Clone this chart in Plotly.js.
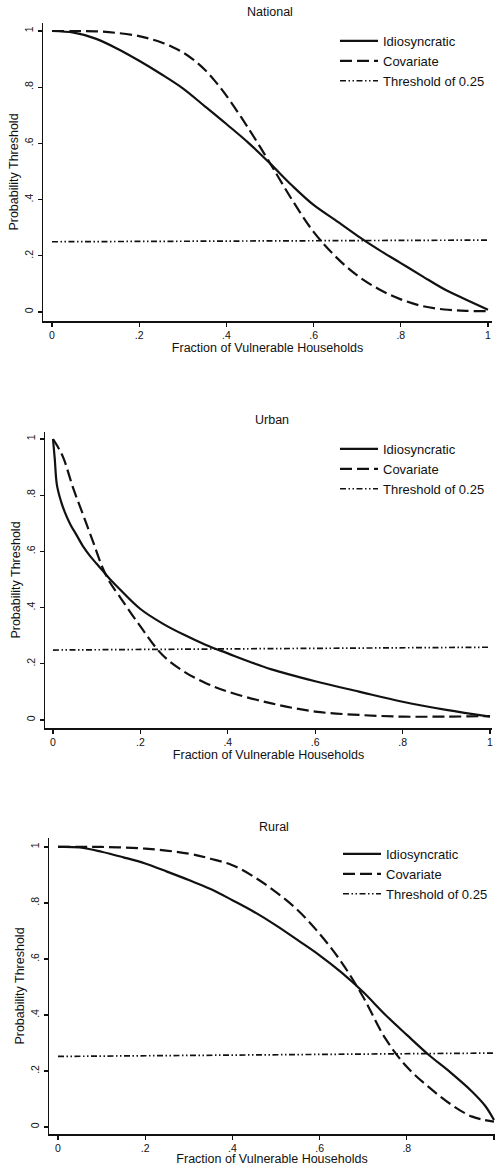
<!DOCTYPE html>
<html>
<head>
<meta charset="utf-8">
<script src="https://cdn.plot.ly/plotly-3.0.1.min.js"></script>
<style>html,body{margin:0;padding:0;background:#fff;}#chart{width:495px;height:1166px;}</style>
</head>
<body>
<div id="chart"></div>
<script>
// ---- Data ----
const panelTitles = ["National", "Urban", "Rural"];
const seriesNames = ["Idiosyncratic", "Covariate", "Threshold of 0.25"];
const tickVals = [0, 0.2, 0.4, 0.6, 0.8, 1];
const tickText = ["0", ".2", ".4", ".6", ".8", "1"];

// National
const natIdioX = [0, 0.05, 0.1, 0.15, 0.2, 0.25, 0.3, 0.35, 0.4, 0.45, 0.5, 0.55, 0.6, 0.65, 0.7, 0.75, 0.8, 0.85, 0.9, 0.95, 1];
const natIdioY = [1, 0.994, 0.973, 0.937, 0.894, 0.847, 0.796, 0.733, 0.669, 0.603, 0.529, 0.451, 0.381, 0.327, 0.272, 0.221, 0.174, 0.127, 0.081, 0.044, 0.008];
const natCovX = [0, 0.05, 0.1, 0.15, 0.2, 0.225, 0.25, 0.275, 0.3, 0.325, 0.35, 0.375, 0.4, 0.45, 0.5, 0.52, 0.55, 0.6, 0.65, 0.7, 0.75, 0.8, 0.85, 0.9, 0.95, 1];
const natCovY = [1, 1, 0.999, 0.993, 0.982, 0.972, 0.96, 0.944, 0.924, 0.897, 0.863, 0.82, 0.77, 0.655, 0.53, 0.478, 0.401, 0.285, 0.198, 0.13, 0.081, 0.045, 0.021, 0.009, 0.004, 0.003];
const natThrY = [0.25, 0.256];

// Urban
const urbIdioX = [0, 0.004, 0.009, 0.018, 0.027, 0.04, 0.054, 0.07, 0.085, 0.1, 0.114, 0.13, 0.15, 0.2, 0.25, 0.3, 0.35, 0.4, 0.45, 0.5, 0.6, 0.7, 0.8, 0.9, 1];
const urbIdioY = [1, 0.93, 0.836, 0.78, 0.74, 0.695, 0.658, 0.615, 0.583, 0.556, 0.531, 0.502, 0.47, 0.395, 0.344, 0.303, 0.267, 0.237, 0.207, 0.18, 0.138, 0.101, 0.065, 0.036, 0.012];
const urbCovX = [0, 0.01, 0.024, 0.046, 0.069, 0.092, 0.114, 0.13, 0.15, 0.2, 0.25, 0.3, 0.35, 0.4, 0.5, 0.6, 0.7, 0.8, 0.9, 1];
const urbCovY = [1, 0.975, 0.932, 0.826, 0.73, 0.633, 0.54, 0.49, 0.445, 0.333, 0.232, 0.172, 0.131, 0.101, 0.059, 0.030, 0.018, 0.012, 0.012, 0.014];
const urbThrY = [0.249, 0.259];

// Rural
const rurIdioX = [0, 0.05, 0.1, 0.15, 0.2, 0.25, 0.3, 0.35, 0.4, 0.45, 0.5, 0.55, 0.6, 0.65, 0.7, 0.75, 0.8, 0.85, 0.9, 0.95, 0.98, 1];
const rurIdioY = [1, 0.998, 0.983, 0.963, 0.941, 0.912, 0.882, 0.85, 0.81, 0.768, 0.72, 0.667, 0.613, 0.552, 0.482, 0.402, 0.329, 0.258, 0.195, 0.126, 0.075, 0.025];
const rurCovX = [0, 0.1, 0.2, 0.3, 0.35, 0.4, 0.45, 0.5, 0.55, 0.6, 0.65, 0.7, 0.75, 0.8, 0.85, 0.9, 0.95, 1];
const rurCovY = [1, 1, 0.994, 0.976, 0.958, 0.935, 0.893, 0.839, 0.774, 0.69, 0.589, 0.464, 0.318, 0.215, 0.143, 0.082, 0.037, 0.019];
const rurThrY = [0.252, 0.264];
const thrX = [0, 1];

// ---- Build figure ----
const panels = [
  {idX: natIdioX, idY: natIdioY, cvX: natCovX, cvY: natCovY, thY: natThrY},
  {idX: urbIdioX, idY: urbIdioY, cvX: urbCovX, cvY: urbCovY, thY: urbThrY},
  {idX: rurIdioX, idY: rurIdioY, cvX: rurCovX, cvY: rurCovY, thY: rurThrY}
];
const W = 495, H = 1166;
// pixel frames for each panel: [left, right, top, bottom], axis ranges
const frames = [
  {l: 43, r: 492, t: 23, b: 321, xr: [-0.0206, 1.0092], yr: [-0.032, 1.0285], titleY: 12, titleX: 270, leg: [335, 26]},
  {l: 45, r: 492, t: 432, b: 728, xr: [-0.0183, 1.0046], yr: [-0.0285, 1.025], titleY: 420, titleX: 272, leg: [335, 434]},
  {l: 49, r: 495, t: 838, b: 1134, xr: [-0.0206, 1.0023], yr: [-0.025, 1.032], titleY: 827, titleX: 274, leg: [338, 839]}
];
const FONT = "Liberation Sans, Arial, Helvetica, sans-serif";
const ink = "#111";
const traces = [];
const layout = {
  width: W, height: H,
  margin: {l: 0, r: 0, t: 0, b: 0},
  paper_bgcolor: "#fff", plot_bgcolor: "#fff",
  font: {family: FONT, color: ink, size: 12},
  annotations: [],
  showlegend: true
};
panels.forEach((p, i) => {
  const n = i === 0 ? "" : String(i + 1);
  const xa = "x" + n, ya = "y" + n;
  const leg = "legend" + n;
  traces.push({x: p.idX, y: p.idY, xaxis: xa, yaxis: ya, legend: leg, mode: "lines", name: seriesNames[0],
    line: {color: ink, width: 2.2, shape: "spline", smoothing: 1}});
  traces.push({x: p.cvX, y: p.cvY, xaxis: xa, yaxis: ya, legend: leg, mode: "lines", name: seriesNames[1],
    line: {color: ink, width: 2.2, dash: "12px,5px", shape: "spline", smoothing: 1}});
  traces.push({x: thrX, y: p.thY, xaxis: xa, yaxis: ya, legend: leg, mode: "lines", name: seriesNames[2],
    line: {color: ink, width: 1.7, dash: "6px,2.5px,1.5px,2.5px,1.5px,2.5px"}});
  const f = frames[i];
  layout["xaxis" + n] = {
    domain: [f.l / W, f.r / W], anchor: ya, range: f.xr,
    showline: true, linecolor: ink, linewidth: 1.5, showgrid: false, zeroline: false,
    ticks: "outside", ticklen: 4, tickwidth: 1.3, tickcolor: ink,
    tickvals: tickVals, ticktext: tickText, tickfont: {size: 10.5, color: ink, family: FONT},
    title: {text: "Fraction of Vulnerable Households", font: {size: 12.5, color: ink, family: FONT}, standoff: 1},
    fixedrange: true
  };
  layout["yaxis" + n] = {
    domain: [1 - f.b / H, 1 - f.t / H], anchor: xa, range: f.yr,
    showline: true, linecolor: ink, linewidth: 1.5, showgrid: false, zeroline: false,
    ticks: "outside", ticklen: 4, tickwidth: 1.3, tickcolor: ink,
    tickvals: tickVals, ticktext: tickText, tickangle: -90, tickfont: {size: 10.5, color: ink, family: FONT},
    title: {text: "Probability Threshold", font: {size: 12.5, color: ink, family: FONT}, standoff: 2},
    fixedrange: true
  };
  layout[leg] = {
    x: f.leg[0] / W, y: 1 - f.leg[1] / H, xanchor: "left", yanchor: "top",
    bgcolor: "rgba(0,0,0,0)", borderwidth: 0,
    font: {size: 13, color: ink, family: FONT},
    itemwidth: 38, tracegroupgap: 0
  };
  layout.annotations.push({
    text: panelTitles[i], xref: "paper", yref: "paper",
    x: f.titleX / W, y: 1 - f.titleY / H, xanchor: "center", yanchor: "middle",
    showarrow: false, font: {size: 12.5, color: ink, family: FONT}
  });
});
Plotly.newPlot("chart", traces, layout, {displayModeBar: false, staticPlot: true});
</script>
</body>
</html>
